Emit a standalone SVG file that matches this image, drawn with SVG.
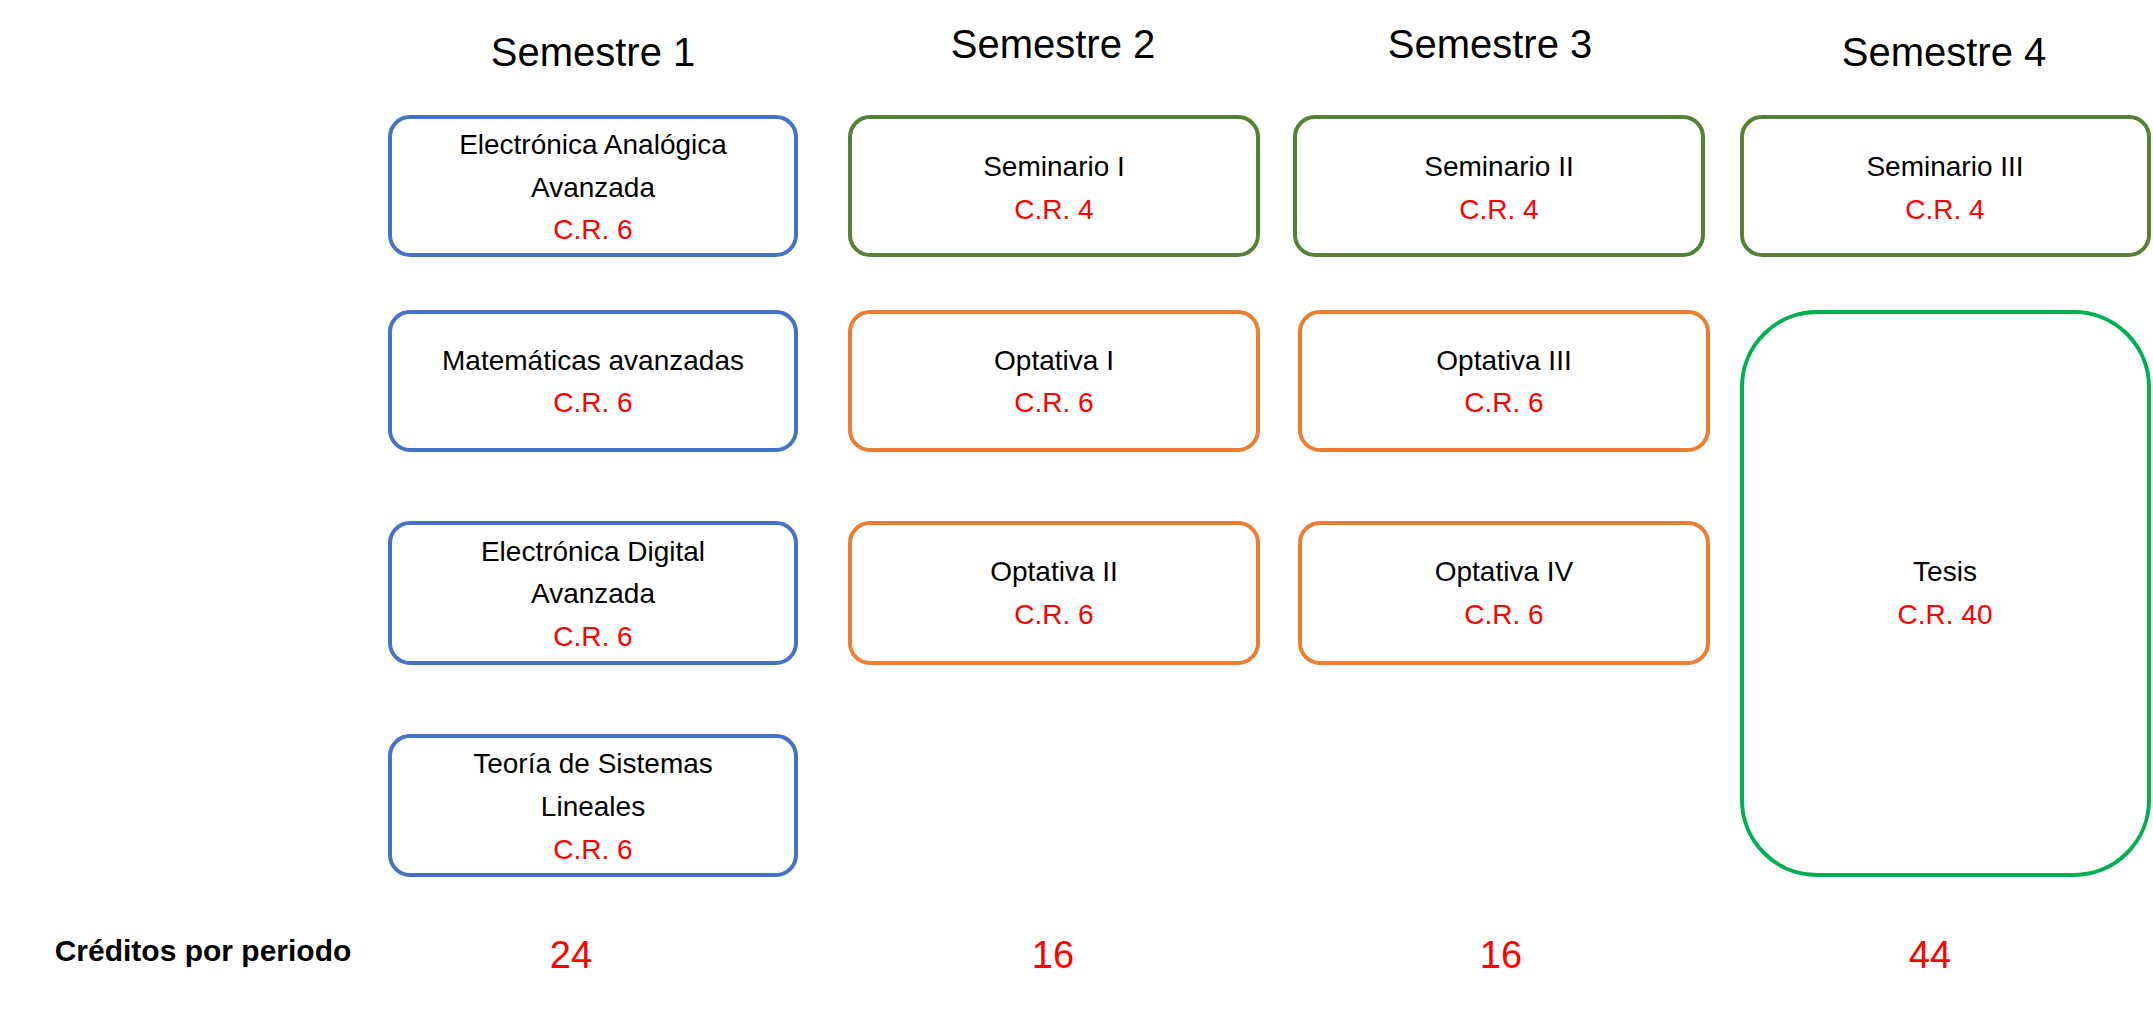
<svg xmlns="http://www.w3.org/2000/svg" width="2153" height="1020" viewBox="0 0 2153 1020">
<style>
text{font-family:"Liberation Sans",Arial,sans-serif;text-anchor:middle}
.h{font-size:40px;fill:#000}
.t{font-size:28px;fill:#000}
.c{font-size:28px;fill:#FF0000}
.n{font-size:38px;fill:#FF0000}
.b{fill:#fff;stroke-width:4}
.blue{stroke:#4472C4}.green{stroke:#548235}.orange{stroke:#ED7D31}.tes{stroke:#00B050}
</style>
<rect width="2153" height="1020" fill="#fff"/>
<g id="headers">
<text class="h" x="593" y="66">Semestre 1</text>
<text class="h" x="1053" y="58">Semestre 2</text>
<text class="h" x="1490" y="58">Semestre 3</text>
<text class="h" x="1944" y="66">Semestre 4</text>
</g>
<g id="connectors"/>
<g id="n1"><rect class="b blue" x="390" y="117" width="406" height="138" rx="20"/>
<text class="t" x="593" y="154">Electrónica Analógica</text><text class="t" x="593" y="197">Avanzada</text><text class="c" x="593" y="239">C.R. 6</text></g>
<g id="n2"><rect class="b blue" x="390" y="312" width="406" height="138" rx="20"/>
<text class="t" x="593" y="370">Matemáticas avanzadas</text><text class="c" x="593" y="412">C.R. 6</text></g>
<g id="n3"><rect class="b blue" x="390" y="523" width="406" height="140" rx="20"/>
<text class="t" x="593" y="561">Electrónica Digital</text><text class="t" x="593" y="603">Avanzada</text><text class="c" x="593" y="646">C.R. 6</text></g>
<g id="n4"><rect class="b blue" x="390" y="736" width="406" height="139" rx="20"/>
<text class="t" x="593" y="773">Teoría de Sistemas</text><text class="t" x="593" y="816">Lineales</text><text class="c" x="593" y="859">C.R. 6</text></g>
<g id="n5"><rect class="b green" x="850" y="117" width="408" height="138" rx="20"/>
<text class="t" x="1054" y="176">Seminario I</text><text class="c" x="1054" y="219">C.R. 4</text></g>
<g id="n6"><rect class="b orange" x="850" y="312" width="408" height="138" rx="20"/>
<text class="t" x="1054" y="370">Optativa I</text><text class="c" x="1054" y="412">C.R. 6</text></g>
<g id="n7"><rect class="b orange" x="850" y="523" width="408" height="140" rx="20"/>
<text class="t" x="1054" y="581">Optativa II</text><text class="c" x="1054" y="624">C.R. 6</text></g>
<g id="n8"><rect class="b green" x="1295" y="117" width="408" height="138" rx="20"/>
<text class="t" x="1499" y="176">Seminario II</text><text class="c" x="1499" y="219">C.R. 4</text></g>
<g id="n9"><rect class="b orange" x="1300" y="312" width="408" height="138" rx="20"/>
<text class="t" x="1504" y="370">Optativa III</text><text class="c" x="1504" y="412">C.R. 6</text></g>
<g id="n10"><rect class="b orange" x="1300" y="523" width="408" height="140" rx="20"/>
<text class="t" x="1504" y="581">Optativa IV</text><text class="c" x="1504" y="624">C.R. 6</text></g>
<g id="n11"><rect class="b green" x="1742" y="117" width="407" height="138" rx="20"/>
<text class="t" x="1945" y="176">Seminario III</text><text class="c" x="1945" y="219">C.R. 4</text></g>
<g id="n12"><rect class="b tes" x="1742" y="312" width="407" height="563" rx="75"/>
<text class="t" x="1945" y="581">Tesis</text><text class="c" x="1945" y="624">C.R. 40</text></g>
<g id="totals">
<text x="203" y="961" style="font-size:30px;font-weight:bold;fill:#000">Créditos por periodo</text>
<text class="n" x="571" y="968">24</text>
<text class="n" x="1053" y="968">16</text>
<text class="n" x="1501" y="968">16</text>
<text class="n" x="1930" y="968">44</text>
</g>
</svg>
